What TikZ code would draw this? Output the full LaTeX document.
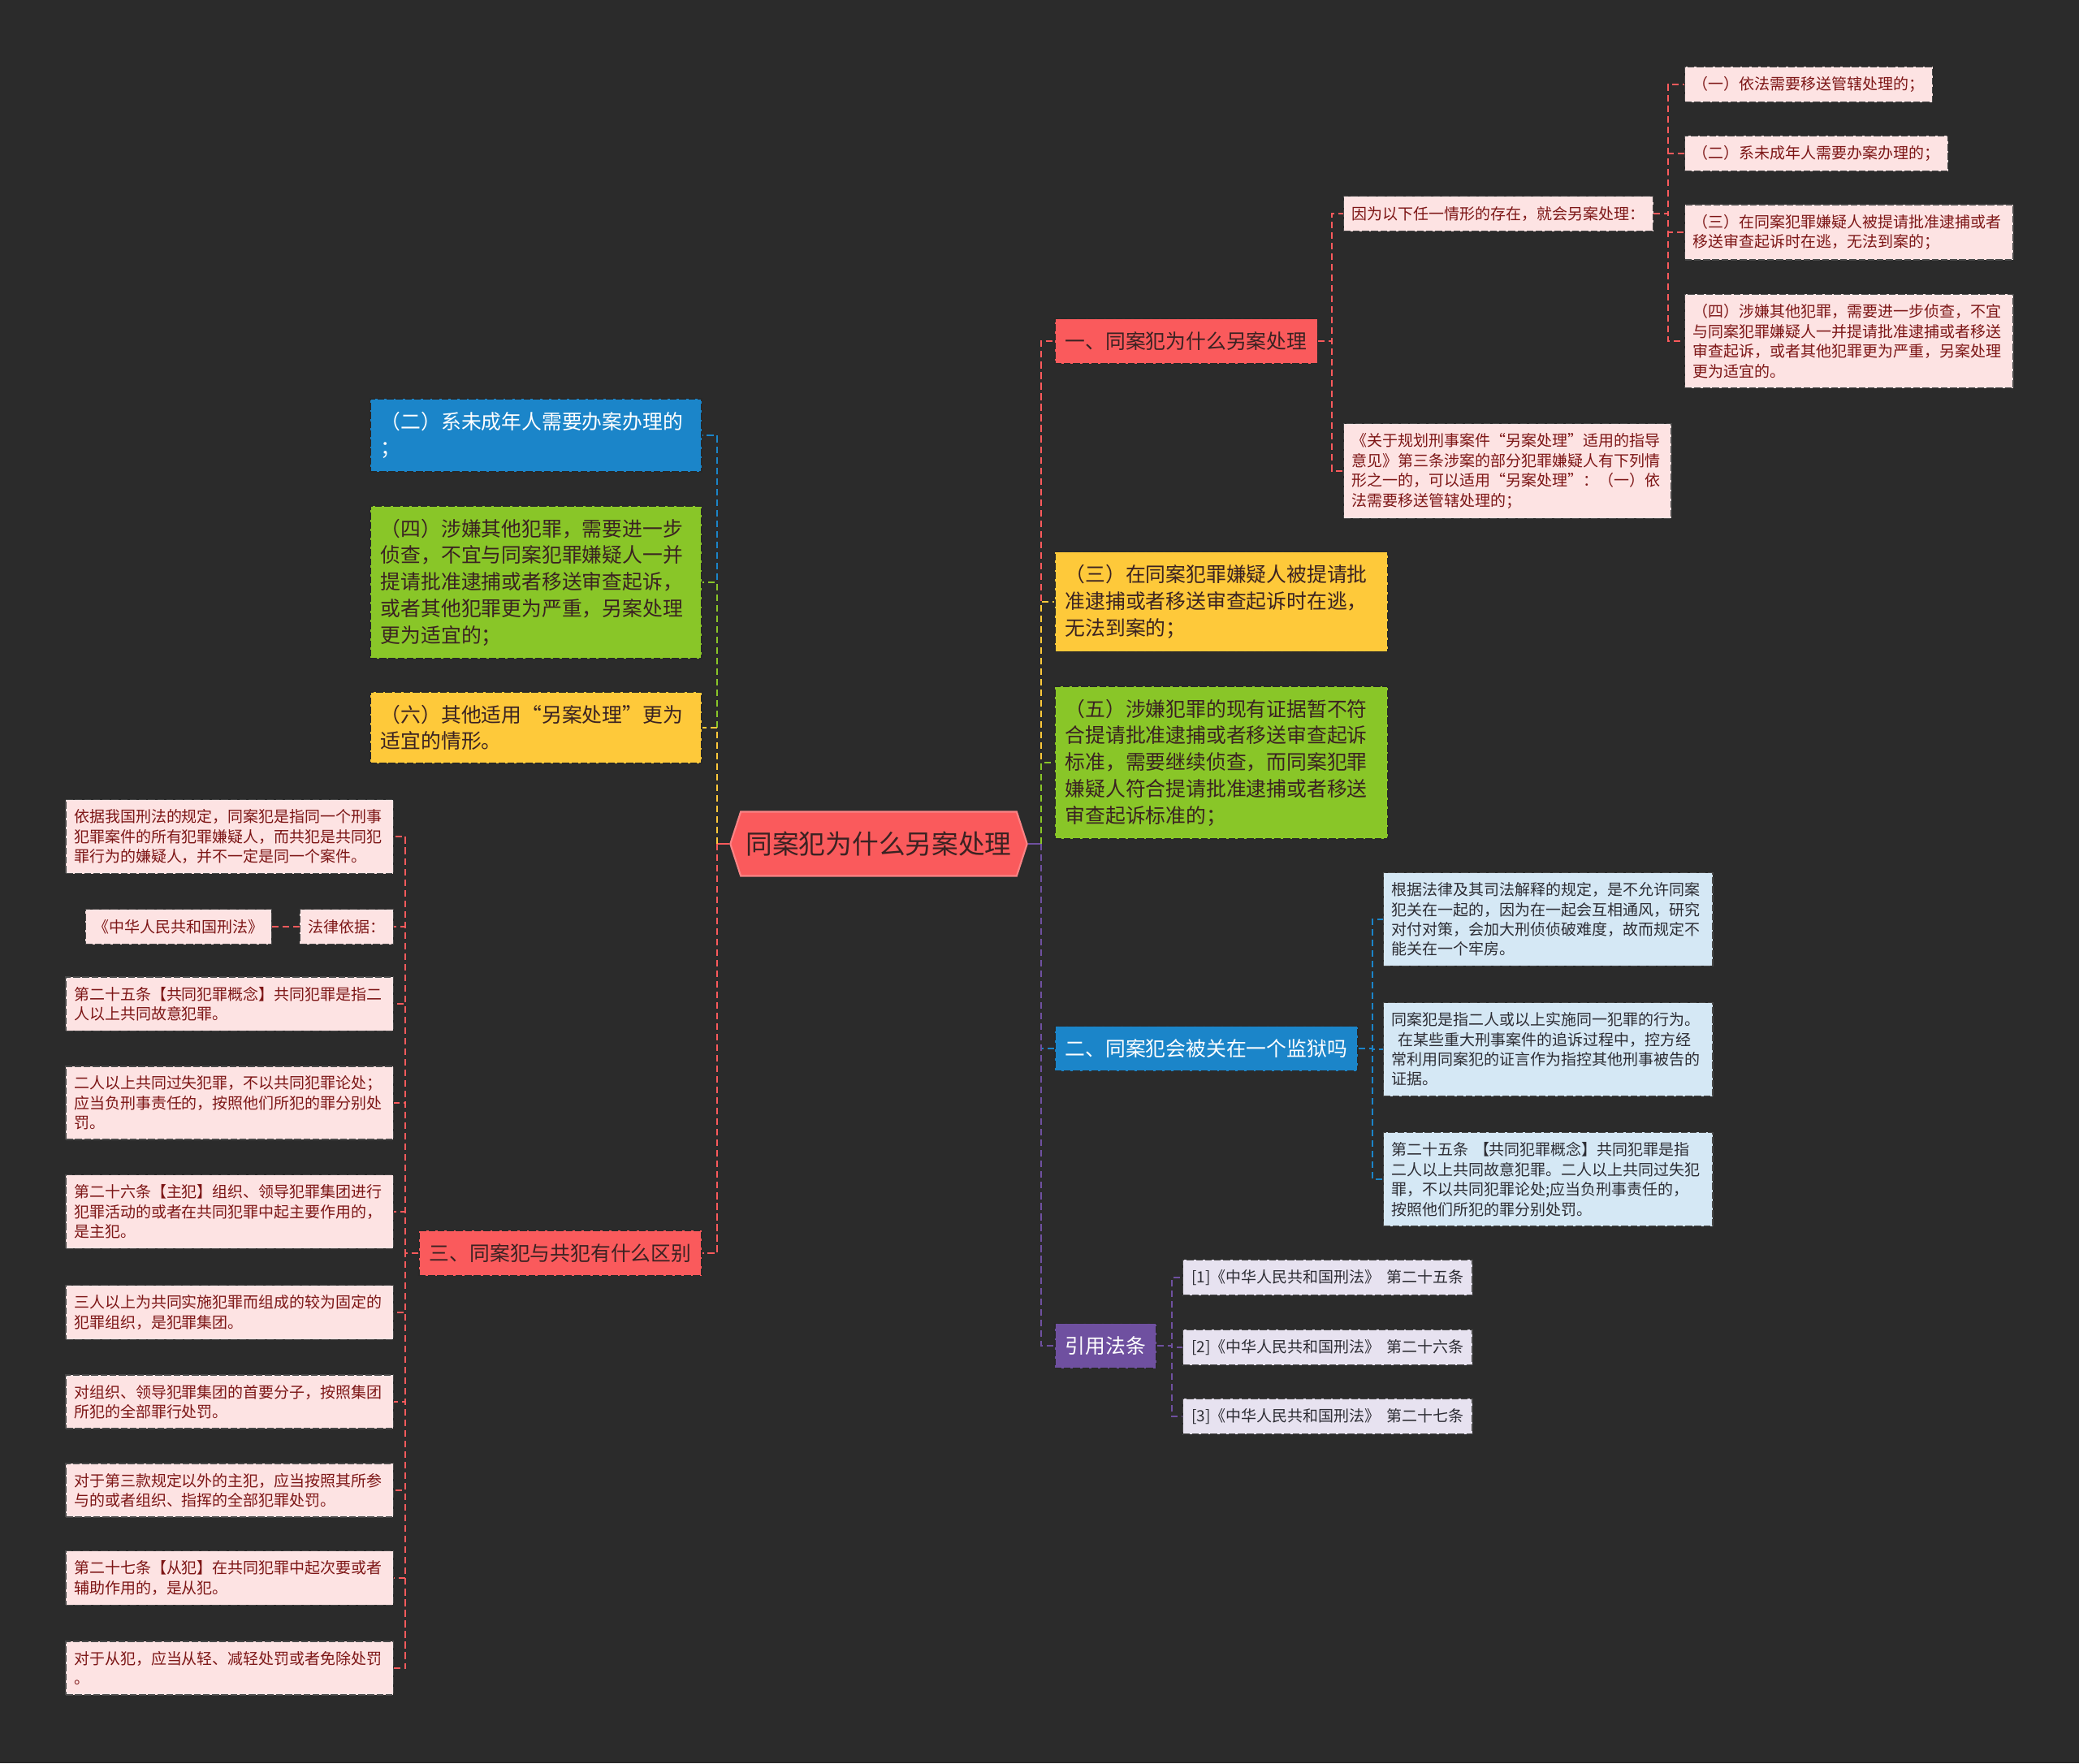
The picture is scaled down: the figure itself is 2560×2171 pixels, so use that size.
\documentclass[tikz,border=0pt]{standalone}
\usepackage{fontspec}
\newfontfamily\cjk{Noto Sans CJK SC}
\usepackage{tikz}
\usetikzlibrary{shapes.symbols, positioning, calc}
\definecolor{MapBack}{RGB}{43,43,43}
\definecolor{MapRed}{RGB}{250,90,92}
\definecolor{MapBlue}{RGB}{27,133,201}
\definecolor{MapGreen}{RGB}{137,198,40}
\definecolor{MapYellow}{RGB}{254,201,58}
\definecolor{MapPurple}{RGB}{111,80,160}
\definecolor{LeafPink}{RGB}{253,227,227}
\definecolor{LeafBlue}{RGB}{213,232,245}
\definecolor{LeafLav}{RGB}{231,226,240}
\definecolor{InkDark}{RGB}{58,34,34}
\definecolor{InkRed}{RGB}{125,22,22}
\definecolor{InkGrey}{RGB}{45,45,52}
\definecolor{EdgeDark}{RGB}{40,40,40}
\newcommand{\cnsmall}{\fontsize{5.4pt}{6.95pt}\selectfont}
\newcommand{\cnbig}{\fontsize{7.05pt}{9.3pt}\selectfont}
\newcommand{\cnroot}{\fontsize{9.3pt}{11pt}\selectfont}

\begin{document}
\begin{tikzpicture}[x=0.01cm, y=-0.01cm,
	root/.style={signal, signal to=east and west, signal pointer angle=144, fill=MapRed,
		draw=MapRed!75!white, line width=0.6pt, text=InkDark, font=\cjk\cnroot,
		minimum height=0.79cm, inner xsep=1.8pt},
	bigbox/.style={draw=EdgeDark, dash pattern=on 2.4pt off 0.8pt, line width=0.45pt,
		font=\cjk\cnbig, align=left, inner xsep=0.13cm, inner ysep=0.16cm, minimum height=0.55cm},
	leaf/.style={draw=EdgeDark!85, dash pattern=on 2.4pt off 0.8pt, line width=0.4pt,
		font=\cjk\cnsmall, align=left, inner xsep=0.1cm, inner ysep=0.12cm, minimum height=0.43cm},
	bxred/.style={fill=MapRed, text=InkDark},
	bxblue/.style={fill=MapBlue, text=white},
	bxgreen/.style={fill=MapGreen, text=InkDark},
	bxyellow/.style={fill=MapYellow, text=InkDark},
	bxpurple/.style={fill=MapPurple, text=white},
	lfpink/.style={fill=LeafPink, text=InkRed},
	lfblue/.style={fill=LeafBlue, text=InkGrey},
	lflav/.style={fill=LeafLav, text=InkGrey},
	lnk/.style={line width=0.57pt, dash pattern=on 2.3pt off 1.4pt},
	stub/.style={line width=0.57pt}]
	\fill[MapBack] (0,0) rectangle (2560,2171);
	\useasboundingbox (0,0) rectangle (2560,2171);
	% nodo central
	\node[root] (root) at (1082,1039) {同案犯为什么另案处理};
	% rama derecha
	\node[bigbox, bxred, anchor=west] (r1) at (1298,420) {一、同案犯为什么另案处理};
	\node[bigbox, bxyellow, anchor=west, text width=3.84cm] (r2) at (1298,741)
		{（三）在同案犯罪嫌疑人被提请批\\准逮捕或者移送审查起诉时在逃，\\无法到案的；};
	\node[bigbox, bxgreen, anchor=west, text width=3.84cm] (r3) at (1298,939)
		{（五）涉嫌犯罪的现有证据暂不符\\合提请批准逮捕或者移送审查起诉\\标准，需要继续侦查，而同案犯罪\\嫌疑人符合提请批准逮捕或者移送\\审查起诉标准的；};
	\node[bigbox, bxblue, anchor=west] (r4) at (1298,1291) {二、同案犯会被关在一个监狱吗};
	\node[bigbox, bxpurple, anchor=west] (r5) at (1298,1657) {引用法条};
	% hijos de r1
	\node[leaf, lfpink, anchor=west] (r1a) at (1654,263) {因为以下任一情形的存在，就会另案处理：};
	\node[leaf, lfpink, anchor=west, text width=3.83cm] (r1b) at (1654,580)
		{《关于规划刑事案件“另案处理”适用的指导\\意见》第三条涉案的部分犯罪嫌疑人有下列情\\形之一的，可以适用“另案处理”：（一）依\\法需要移送管辖处理的；};
	\node[leaf, lfpink, anchor=west] (r1a1) at (2074,104) {（一）依法需要移送管辖处理的；};
	\node[leaf, lfpink, anchor=west] (r1a2) at (2074,189) {（二）系未成年人需要办案办理的；};
	\node[leaf, lfpink, anchor=west, text width=3.84cm] (r1a3) at (2074,286)
		{（三）在同案犯罪嫌疑人被提请批准逮捕或者\\移送审查起诉时在逃，无法到案的；};
	\node[leaf, lfpink, anchor=west, text width=3.84cm] (r1a4) at (2074,420)
		{（四）涉嫌其他犯罪，需要进一步侦查，不宜\\与同案犯罪嫌疑人一并提请批准逮捕或者移送\\审查起诉，或者其他犯罪更为严重，另案处理\\更为适宜的。};
	% hijos de r4
	\node[leaf, lfblue, anchor=west, text width=3.85cm] (r4a) at (1703,1132)
		{根据法律及其司法解释的规定，是不允许同案\\犯关在一起的，因为在一起会互相通风，研究\\对付对策，会加大刑侦侦破难度，故而规定不\\能关在一个牢房。};
	\node[leaf, lfblue, anchor=west, text width=3.85cm] (r4b) at (1703,1292)
		{同案犯是指二人或以上实施同一犯罪的行为。\\\hspace{0.4em}在某些重大刑事案件的追诉过程中，控方经\\常利用同案犯的证言作为指控其他刑事被告的\\证据。};
	\node[leaf, lfblue, anchor=west, text width=3.85cm] (r4c) at (1703,1452)
		{第二十五条 【共同犯罪概念】共同犯罪是指\\二人以上共同故意犯罪。二人以上共同过失犯\\罪，不以共同犯罪论处;应当负刑事责任的，\\按照他们所犯的罪分别处罚。};
	% hijos de r5
	\foreach \i/\y/\t in {1/1573/第二十五条, 2/1659/第二十六条, 3/1744/第二十七条}
		{\node[leaf, lflav, anchor=west, minimum width=3.56cm] (r5\i) at (1456,\y)
			{[\i]《中华人民共和国刑法》\hspace{0.4em}\t};}
	% rama izquierda
	\node[bigbox, bxblue, anchor=east, text width=3.82cm] (l1) at (865,536)
		{（二）系未成年人需要办案办理的\\；};
	\node[bigbox, bxgreen, anchor=east, text width=3.82cm] (l2) at (865,717)
		{（四）涉嫌其他犯罪，需要进一步\\侦查，不宜与同案犯罪嫌疑人一并\\提请批准逮捕或者移送审查起诉，\\或者其他犯罪更为严重，另案处理\\更为适宜的；};
	\node[bigbox, bxyellow, anchor=east, text width=3.82cm] (l3) at (865,896)
		{（六）其他适用“另案处理”更为\\适宜的情形。};
	\node[bigbox, bxred, anchor=east] (l4) at (865,1543) {三、同案犯与共犯有什么区别};
	% hijos de l4
	\foreach \i/\y/\t in {
		1/1030/{依据我国刑法的规定，同案犯是指同一个刑事\\犯罪案件的所有犯罪嫌疑人，而共犯是共同犯\\罪行为的嫌疑人，并不一定是同一个案件。},
		3/1236/{第二十五条【共同犯罪概念】共同犯罪是指二\\人以上共同故意犯罪。},
		4/1358/{二人以上共同过失犯罪，不以共同犯罪论处；\\应当负刑事责任的，按照他们所犯的罪分别处\\罚。},
		5/1492/{第二十六条【主犯】组织、领导犯罪集团进行\\犯罪活动的或者在共同犯罪中起主要作用的，\\是主犯。},
		6/1616/{三人以上为共同实施犯罪而组成的较为固定的\\犯罪组织，是犯罪集团。},
		7/1726/{对组织、领导犯罪集团的首要分子，按照集团\\所犯的全部罪行处罚。},
		8/1835/{对于第三款规定以外的主犯，应当按照其所参\\与的或者组织、指挥的全部犯罪处罚。},
		9/1943/{第二十七条【从犯】在共同犯罪中起次要或者\\辅助作用的，是从犯。},
		10/2054/{对于从犯，应当从轻、减轻处罚或者免除处罚\\。}}
		{\node[leaf, lfpink, anchor=east, text width=3.83cm] (c\i) at (485,\y) {\t};}
	\node[leaf, lfpink, anchor=east] (c2) at (485,1141) {法律依据：};
	\node[leaf, lfpink, anchor=east] (c2a) at (335,1141) {《中华人民共和国刑法》};
	% conectores
	\draw[stub, MapPurple] (root.east) -- (1282,1039);
	\foreach \n/\c in {r1/MapRed, r2/MapYellow, r3/MapGreen, r4/MapBlue, r5/MapPurple}
		{\draw[lnk, \c] (1282,1039) |- (\n.west);}
	\draw[stub, MapRed] (root.west) -- (883,1039);
	\foreach \n/\c in {l1/MapBlue, l2/MapGreen, l3/MapYellow, l4/MapRed}
		{\draw[lnk, \c] (883,1039) |- (\n.east);}
	\foreach \n in {r1a, r1b}
		{\draw[lnk, MapRed] (r1.east) -- ++(17,0) |- (\n.west);}
	\foreach \n in {r1a1, r1a2, r1a3, r1a4}
		{\draw[lnk, MapRed] (r1a.east) -- ++(18,0) |- (\n.west);}
	\foreach \n in {r4a, r4b, r4c}
		{\draw[lnk, MapBlue] (r4.east) -- ++(17,0) |- (\n.west);}
	\foreach \i in {1,2,3}
		{\draw[lnk, MapPurple] (r5.east) -- ++(18,0) |- (r5\i.west);}
	\foreach \i in {1,...,10}
		{\draw[lnk, MapRed] (l4.west) -- ++(-16,0) |- (c\i.east);}
	\draw[lnk, MapRed] (c2.west) -- (c2a.east);
\end{tikzpicture}
\end{document}
